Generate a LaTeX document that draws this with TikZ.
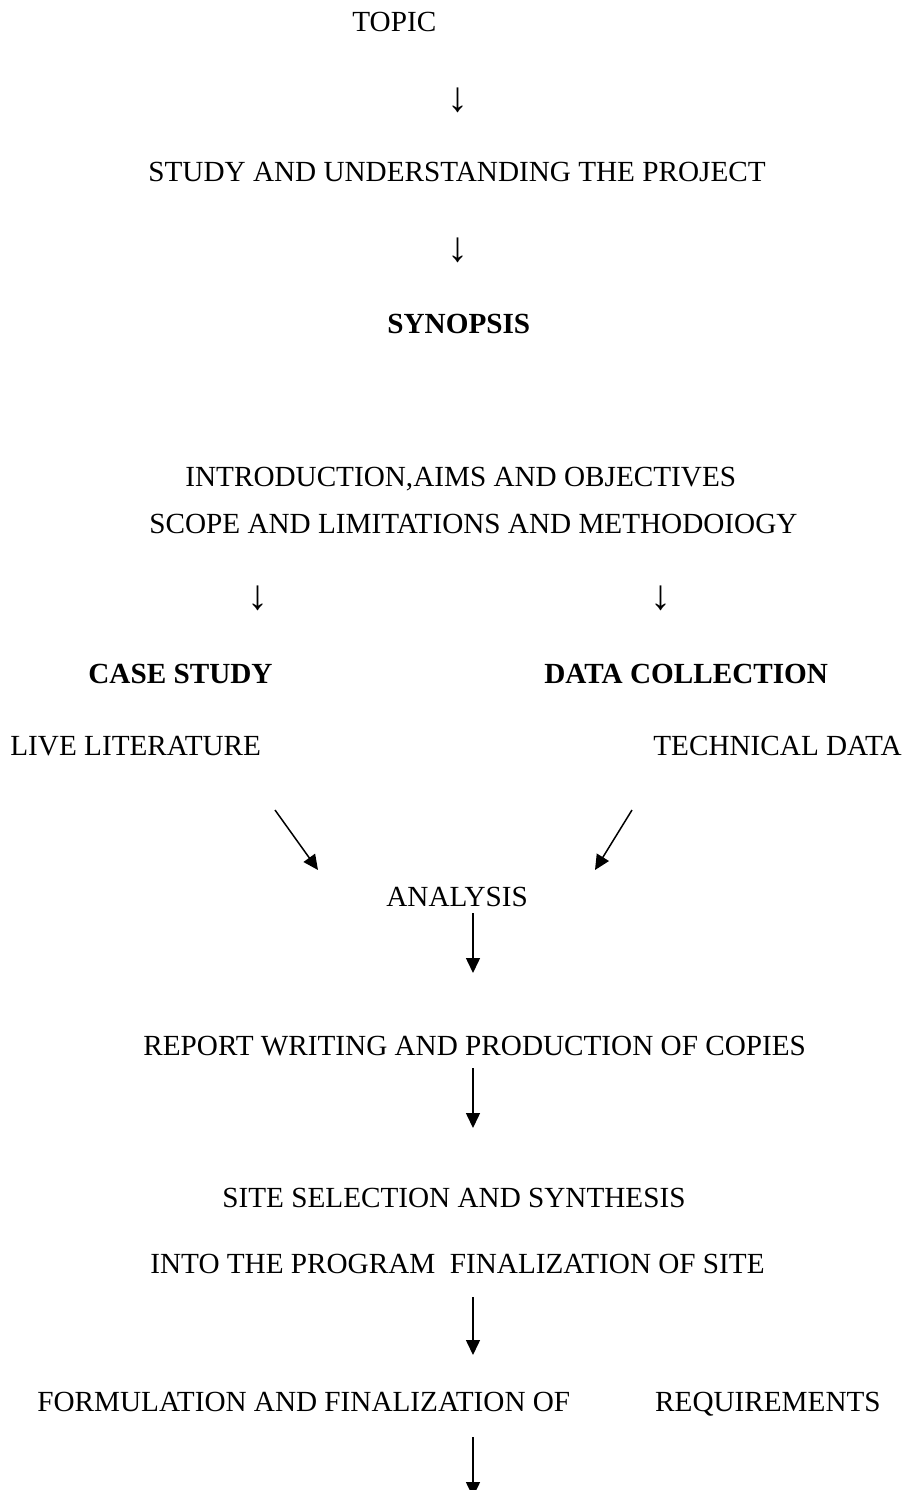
\documentclass[tikz,border=0pt]{standalone}
\usepackage{fontspec}
\setmainfont{Liberation Serif}
\usetikzlibrary{arrows.meta}
\begin{document}
\begin{tikzpicture}[x=0.5pt,y=-0.5pt,
  lbl/.style={anchor=base west, inner sep=0pt, font=\fontsize{14.6pt}{17pt}\selectfont},
  blbl/.style={anchor=base west, inner sep=0pt, font=\fontsize{14.6pt}{17pt}\selectfont\bfseries},
  glyph/.style={anchor=center, inner sep=0pt, font=\fontsize{21pt}{24pt}\selectfont},
  arr/.style={line width=0.75pt, -{Triangle[length=7.5pt,width=7pt]}}]
\useasboundingbox (0,0) rectangle (910,1490);
% texts
\node[lbl] (topic) at (352,31) {TOPIC};
\node[glyph] (d1) at (458,100) {↓};
\node[lbl] (study) at (148,181) {STUDY AND UNDERSTANDING THE PROJECT};
\node[glyph] (d2) at (458,250) {↓};
\node[blbl] (syn) at (387,333) {SYNOPSIS};
\node[lbl] (intro) at (185,486) {INTRODUCTION,AIMS AND OBJECTIVES};
\node[lbl] (scope) at (149,533) {SCOPE AND LIMITATIONS AND METHODOIOGY};
\node[glyph] (d3) at (258,598) {↓};
\node[glyph] (d4) at (661,598) {↓};
\node[blbl] (case) at (88,683) {CASE STUDY};
\node[blbl] (data) at (544,683) {DATA COLLECTION};
\node[lbl] (live) at (10,755) {LIVE LITERATURE};
\node[lbl] (tech) at (653,755) {TECHNICAL DATA};
\node[lbl] (analysis) at (386,906) {ANALYSIS};
\node[lbl] (report) at (143,1055) {REPORT WRITING AND PRODUCTION OF COPIES};
\node[lbl] (site) at (222,1207) {SITE SELECTION AND SYNTHESIS};
\node[lbl] (into) at (150,1273) {INTO THE PROGRAM\ \ FINALIZATION OF SITE};
\node[lbl] (form) at (37,1411) {FORMULATION AND FINALIZATION OF\hspace{42.5pt}REQUIREMENTS};
% connector ends
\coordinate (l1) at (275,810);
\coordinate (l2) at (318,870);
\coordinate (r1) at (632,810);
\coordinate (r2) at (595,870);
\coordinate (v1s) at (473,913);
\coordinate (v1e) at (473,973);
\coordinate (v2s) at (473,1068);
\coordinate (v2e) at (473,1128);
\coordinate (v3s) at (473,1297);
\coordinate (v3e) at (473,1355);
\coordinate (v4s) at (473,1437);
\coordinate (v4e) at (473,1497);
% connectors
\draw[arr] (l1) -- (l2);
\draw[arr] (r1) -- (r2);
\draw[arr] (v1s) -- (v1e);
\draw[arr] (v2s) -- (v2e);
\draw[arr] (v3s) -- (v3e);
\draw[arr] (v4s) -- (v4e);
\end{tikzpicture}
\end{document}
